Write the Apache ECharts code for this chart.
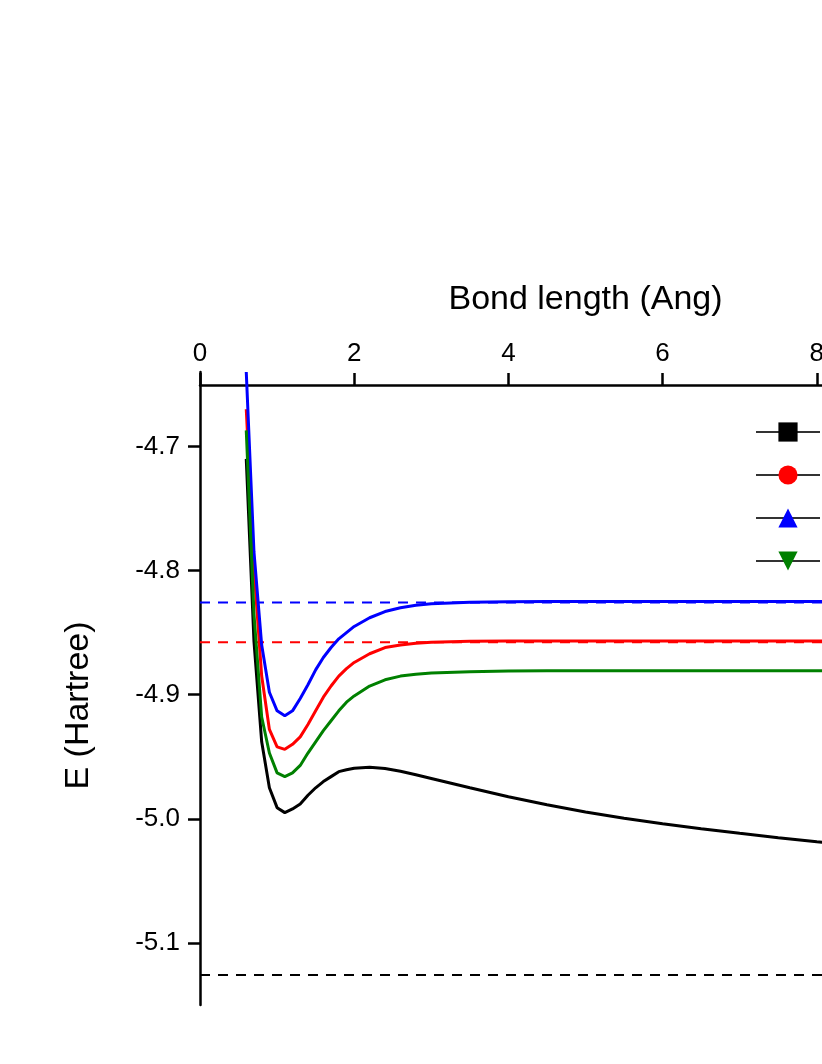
<!DOCTYPE html>
<html>
<head>
<meta charset="utf-8">
<script src="https://cdn.jsdelivr.net/npm/echarts@6/dist/echarts.min.js"></script>
<style>
  html, body { margin: 0; padding: 0; background: #fff; overflow: hidden; width: 822px; height: 1064px; }
  #chart { width: 1120px; height: 1064px; }
</style>
</head>
<body>
<div id="chart"></div>
<script>
// bond length (Ang) shared by all four curves
const bondLength = [0.6, 0.7, 0.8, 0.9, 1.0, 1.1, 1.2, 1.3, 1.4, 1.5, 1.6, 1.7, 1.8, 1.9, 2.0,
    2.2, 2.4, 2.6, 2.8, 3.0, 3.5, 4.0, 4.5, 5.0, 5.5, 6.0, 6.5, 7.0, 7.5, 8.0, 9.0, 10.0];

const energyBlack = [-4.710, -4.857, -4.938, -4.975, -4.991, -4.995, -4.992, -4.988, -4.981, -4.975,
    -4.970, -4.966, -4.962, -4.9605, -4.9592, -4.9585, -4.9595, -4.9617, -4.9645, -4.9675, -4.9750,
    -4.9822, -4.9887, -4.9945, -4.9995, -5.0040, -5.0080, -5.0117, -5.0152, -5.0185, -5.0245, -5.0295];
const energyRed = [-4.670, -4.798, -4.885, -4.928, -4.942, -4.944, -4.940, -4.934, -4.924, -4.913,
    -4.902, -4.893, -4.885, -4.879, -4.874, -4.867, -4.862, -4.860, -4.8585, -4.8578, -4.857,
    -4.8568, -4.8567, -4.8567, -4.8567, -4.8567, -4.8567, -4.8567, -4.8567, -4.8567, -4.8567, -4.8567];
const energyBlue = [-4.640, -4.785, -4.860, -4.898, -4.913, -4.917, -4.913, -4.903, -4.892, -4.880,
    -4.870, -4.862, -4.855, -4.850, -4.845, -4.838, -4.833, -4.830, -4.828, -4.8268, -4.8256,
    -4.8252, -4.825, -4.825, -4.825, -4.825, -4.825, -4.825, -4.825, -4.825, -4.825, -4.825];
const energyGreen = [-4.687, -4.835, -4.918, -4.947, -4.963, -4.966, -4.963, -4.957, -4.947, -4.938,
    -4.929, -4.921, -4.913, -4.906, -4.901, -4.893, -4.888, -4.885, -4.8835, -4.8825, -4.8815,
    -4.881, -4.8806, -4.8806, -4.8806, -4.8806, -4.8806, -4.8806, -4.8806, -4.8806, -4.8806, -4.8806];

// dashed reference levels (black, red, blue)
const limitLevels = [-5.1258, -4.8578, -4.8258];
const limitColors = ['#000000', '#ff0000', '#0000ff'];

const seriesNames = ['A', 'B', 'C', 'D'];
const yTicks = [-5.1, -5.0, -4.9, -4.8, -4.7];

const font = 'Liberation Sans, Arial, sans-serif';

function pairs(ys) {
    return bondLength.map((x, i) => [x, ys[i]]);
}

const curves = [
    { name: seriesNames[0], color: '#000000', symbol: 'rect', data: energyBlack },
    { name: seriesNames[1], color: '#ff0000', symbol: 'circle', data: energyRed },
    { name: seriesNames[2], color: '#0000ff', symbol: 'triangle', data: energyBlue },
    { name: seriesNames[3], color: '#008000', symbol: 'path://M0,0 L10,0 L5,9 Z', data: energyGreen }
];

const series = [];
limitLevels.forEach((level, i) => {
    series.push({
        type: 'line',
        data: [[0, level], [10, level]],
        showSymbol: false,
        silent: true,
        lineStyle: { color: limitColors[i], width: 2, type: [10, 8] },
        z: 1
    });
});
curves.forEach(c => {
    series.push({
        name: c.name,
        type: 'line',
        data: pairs(c.data),
        symbol: c.symbol,
        showSymbol: false,
        color: c.color,
        lineStyle: { color: c.color, width: 3 },
        z: 2
    });
});

const chart = echarts.init(document.getElementById('chart'), null, { renderer: 'canvas' });
chart.setOption({
    animation: false,
    backgroundColor: '#ffffff',
    textStyle: { fontFamily: font },
    grid: { left: 200, top: 372, bottom: 59, right: 149, containLabel: false },
    legend: {
        data: seriesNames,
        orient: 'vertical',
        left: 755,
        top: 420,
        padding: 0,
        itemWidth: 64,
        itemHeight: 24,
        itemGap: 19,
        lineStyle: { color: '#333333', width: 2 },
        textStyle: { fontSize: 24, color: '#000' }
    },
    xAxis: {
        type: 'value',
        position: 'top',
        offset: -13,
        min: 0,
        max: 10,
        interval: 2,
        name: 'Bond length (Ang)',
        nameLocation: 'middle',
        nameGap: 68,
        nameTextStyle: { fontSize: 34, color: '#000', fontFamily: font },
        axisLine: { onZero: false, lineStyle: { color: '#000', width: 2.5 } },
        axisTick: { length: 12, lineStyle: { color: '#000', width: 2.5 } },
        axisLabel: { fontSize: 26, color: '#000', margin: 18, fontFamily: font },
        splitLine: { show: false }
    },
    yAxis: {
        type: 'value',
        min: -5.15,
        max: -4.64,
        name: 'E (Hartree)',
        nameLocation: 'middle',
        nameGap: 104,
        nameRotate: 90,
        nameTextStyle: { fontSize: 34, color: '#000', fontFamily: font, padding: [0, 34, 0, 0] },
        axisLine: { onZero: false, lineStyle: { color: '#000', width: 2.5 } },
        axisTick: { length: 12, customValues: yTicks, lineStyle: { color: '#000', width: 2.5 } },
        axisLabel: {
            fontSize: 26, color: '#000', margin: 20, fontFamily: font,
            customValues: yTicks,
            formatter: v => v.toFixed(1)
        },
        splitLine: { show: false }
    },
    series: series
});
</script>
</body>
</html>
